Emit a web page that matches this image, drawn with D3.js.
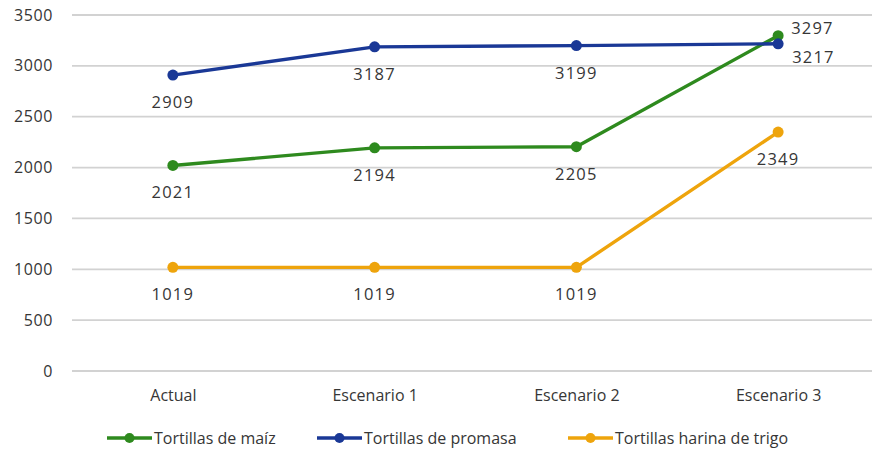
<!DOCTYPE html>
<html>
<head>
<meta charset="utf-8">
<script src="https://cdn.jsdelivr.net/npm/d3@7"></script>
<style>
  html, body { margin: 0; padding: 0; background: #fff; }
  svg { display: block; font-family: "Open Sans", sans-serif; }
</style>
</head>
<body>
<svg id="chart" width="872" height="453"></svg>
<script>
// Categories and series
const categories = ["Actual", "Escenario 1", "Escenario 2", "Escenario 3"];
const maiz    = [2021, 2194, 2205, 3297];
const promasa = [2909, 3187, 3199, 3217];
const trigo   = [1019, 1019, 1019, 2349];
const yTicks  = [0, 500, 1000, 1500, 2000, 2500, 3000, 3500];
const seriesNames  = ["Tortillas de maíz", "Tortillas de promasa", "Tortillas harina de trigo"];
const seriesColors = ["#2e8a1e", "#1a3896", "#eea40c"];

const series = [
  { name: seriesNames[0], color: seriesColors[0], values: maiz },
  { name: seriesNames[1], color: seriesColors[1], values: promasa },
  { name: seriesNames[2], color: seriesColors[2], values: trigo }
];

const textColor = "#363636";
const svg = d3.select("#chart");
const plotLeft = 72, plotRight = 879, plotTop = 15, plotBottom = 371;

const x = d3.scalePoint().domain(categories).range([plotLeft, plotRight]).padding(0.5);
const y = d3.scaleLinear().domain([0, 3500]).range([plotBottom, plotTop]);

// Horizontal gridlines
svg.append("g")
  .selectAll("line")
  .data(yTicks)
  .join("line")
  .attr("x1", plotLeft).attr("x2", plotRight)
  .attr("y1", d => y(d)).attr("y2", d => y(d))
  .attr("stroke", "#d2d2d2").attr("stroke-width", 1.8);

// Y axis labels
const yAxis = d3.axisLeft(y).tickValues(yTicks).tickFormat(d3.format("d")).tickSize(0).tickPadding(0);
const gy = svg.append("g").attr("transform", `translate(${plotLeft - 19},0)`).call(yAxis);
gy.select(".domain").remove();
gy.selectAll("text").attr("font-size", 16).attr("fill", textColor)
  .attr("font-family", "'Open Sans', sans-serif").attr("letter-spacing", 0.6);

// Category labels
const xAxis = d3.axisBottom(x).tickSize(0).tickPadding(0);
const gx = svg.append("g").attr("transform", `translate(0,${plotBottom + 19})`).call(xAxis);
gx.select(".domain").remove();
gx.selectAll("text").attr("font-size", 16).attr("fill", textColor)
  .attr("font-family", "'Open Sans', sans-serif");

// Lines and markers
const line = d3.line().x((d, i) => x(categories[i])).y(d => y(d));
series.forEach(s => {
  svg.append("path")
    .datum(s.values)
    .attr("d", line)
    .attr("fill", "none")
    .attr("stroke", s.color)
    .attr("stroke-width", 3.4)
    .attr("stroke-linejoin", "round");
  svg.append("g").selectAll("circle")
    .data(s.values)
    .join("circle")
    .attr("cx", (d, i) => x(categories[i]))
    .attr("cy", d => y(d))
    .attr("r", 5.5)
    .attr("fill", s.color);
});

// Value labels
series.forEach((s, si) => {
  s.values.forEach((v, i) => {
    let dx = 0, dy = 33, anchor = "middle";
    if (i === 3 && si === 0) { dx = 13; dy = -2; anchor = "start"; }
    if (i === 3 && si === 1) { dx = 14; dy = 19; anchor = "start"; }
    svg.append("text")
      .attr("x", x(categories[i]) + dx)
      .attr("y", y(v) + dy)
      .attr("text-anchor", anchor)
      .attr("font-size", 16.5)
      .attr("letter-spacing", 1.2)
      .attr("fill", textColor)
      .text(v);
  });
});

// Legend
const legendX = [107, 317, 568];
const legend = svg.append("g");
series.forEach((s, i) => {
  const g = legend.append("g").attr("transform", `translate(${legendX[i]},438)`);
  g.append("line").attr("x1", 0).attr("x2", 45).attr("y1", 0).attr("y2", 0)
    .attr("stroke", s.color).attr("stroke-width", 3.4);
  g.append("circle").attr("cx", 22.5).attr("cy", 0).attr("r", 5).attr("fill", s.color);
  g.append("text").attr("x", 47).attr("y", 5.5).text(s.name)
    .attr("font-size", 16).attr("fill", textColor);
});
</script>
</body>
</html>
